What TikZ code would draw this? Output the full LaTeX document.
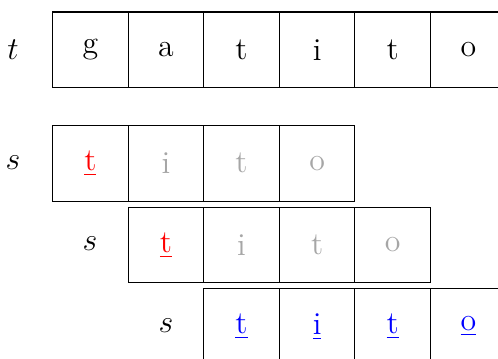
\documentclass[tikz,border=0pt]{standalone}
\begin{document}
\begin{tikzpicture}[x=0.013228cm,y=-0.013228cm,
  cell/.style={draw,rectangle,minimum width=1cm,minimum height=1cm,inner sep=0pt,anchor=north west,font=\large,line width=0.4pt},
  lbl/.style={font=\large},
  faded/.style={text=gray!70},
  hitred/.style={text=red},
  hitblue/.style={text=blue}]
\useasboundingbox (0,0) rectangle (498,359);
\clip (0,0) rectangle (498,359);
% row 1: t
\node[lbl] (lt) at (13,50) {$t$};
\foreach \ch [count=\i from 0] in {g,a,t,i,t,o}
  \node[cell] (a\i) at (52+75.6*\i,11.5) {\ch};
% row 2: s at shift 0
\node[lbl] (ls1) at (13,163) {$s$};
\node[cell,hitred] (b0) at (52,125) {\underline{t}};
\foreach \ch [count=\i from 1] in {i,t,o}
  \node[cell,faded] (b\i) at (52+75.6*\i,125) {\ch};
% row 3: s at shift 1
\node[lbl] (ls2) at (90,244) {$s$};
\node[cell,hitred] (c0) at (127.6,206.7) {\underline{t}};
\foreach \ch [count=\i from 1] in {i,t,o}
  \node[cell,faded] (c\i) at (127.6+75.6*\i,206.7) {\ch};
% row 4: s at shift 2
\node[lbl] (ls3) at (166,326) {$s$};
\foreach \ch [count=\i from 0] in {t,i,t,o}
  \node[cell,hitblue] (d\i) at (203.2+75.6*\i,288.3) {\underline{\ch}};
\end{tikzpicture}
\end{document}
